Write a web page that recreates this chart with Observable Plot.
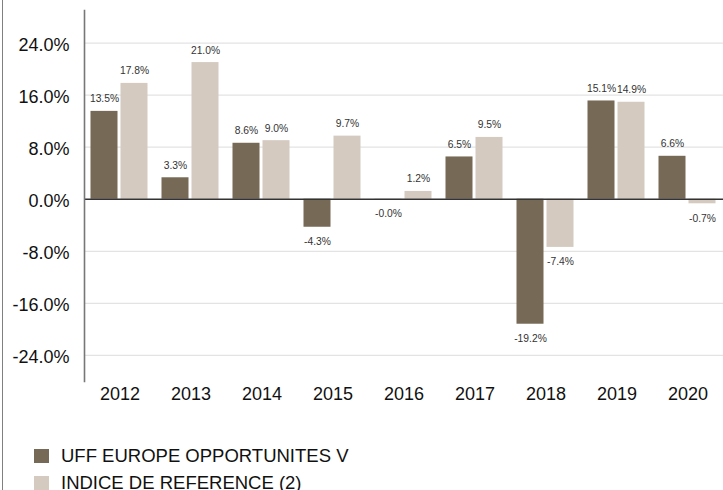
<!DOCTYPE html>
<html>
<head>
<meta charset="utf-8">
<script src="https://cdn.jsdelivr.net/npm/d3@7"></script>
<script src="https://cdn.jsdelivr.net/npm/@observablehq/plot@0.6"></script>
<style>
  html, body { margin: 0; padding: 0; background: #fff; }
  body { width: 723px; height: 490px; overflow: hidden; position: relative; font-family: "Liberation Sans", Arial, sans-serif; }
  #border { position: absolute; left: 2px; top: 0; width: 1px; height: 490px; background: #808080; }
  #chart svg { display: block; }
  #legend { padding-left: 34px; margin-top: 3px; }
  .row { display: flex; align-items: center; height: 26.7px; font-size: 18.5px; color: #111; }
  .sw { width: 15px; height: 14px; margin-right: 12px; flex: none; }
</style>
</head>
<body>
<div id="border"></div>
<div id="chart"></div>
<div id="legend"></div>
<script>
const years = ["2012", "2013", "2014", "2015", "2016", "2017", "2018", "2019", "2020"];
const seriesNames = ["UFF EUROPE OPPORTUNITES V", "INDICE DE REFERENCE (2)"];
const fundValues = [13.5, 3.3, 8.6, -4.3, -0.02, 6.5, -19.2, 15.1, 6.6];
const indexValues = [17.8, 21.0, 9.0, 9.7, 1.2, 9.5, -7.4, 14.9, -0.7];
const yTicks = [-24, -16, -8, 0, 8, 16, 24];
const colors = ["#766956", "#d4cac0"];

const data = years.flatMap((y, i) => [
  {year: y, series: seriesNames[0], value: fundValues[i]},
  {year: y, series: seriesNames[1], value: indexValues[i]}
]);
const fmt = v => v.toFixed(1) + "%";
const font = "Liberation Sans, Arial, sans-serif";

const plot = Plot.plot({
  width: 723,
  height: 440,
  marginLeft: 81.5,
  marginRight: -2,
  marginTop: 10,
  marginBottom: 59,
  style: {fontFamily: font, background: "transparent"},
  fx: {domain: years, padding: 0, label: null, axis: null},
  x: {domain: seriesNames, paddingInner: 0.097, paddingOuter: 0.198, axis: null},
  y: {domain: [-28, 29], axis: null},
  color: {domain: seriesNames, range: colors},
  marks: [
    Plot.ruleY(yTicks.filter(t => t !== 0), {stroke: "#e3e3e3", strokeWidth: 1.2}),
    Plot.barY(data, {fx: "year", x: "series", y: "value", fill: "series"}),
    Plot.ruleY([0], {stroke: "#333", strokeWidth: 1.3}),
    Plot.text(data.filter(d => d.value >= 0), {fx: "year", x: "series", y: "value", text: d => fmt(d.value), dy: -12.3, fontSize: 10.3, fill: "#333"}),
    Plot.text(data.filter(d => d.value < 0), {fx: "year", x: "series", y: "value", text: d => fmt(d.value), dy: 14.7, fontSize: 10.3, fill: "#333"}),
    Plot.axisY(yTicks, {anchor: "left", tickSize: 0, tickPadding: 15, tickFormat: d => d.toFixed(1) + "%", fontSize: 18, fill: "#111", dy: 2, label: null}),
    Plot.axisFx({anchor: "bottom", tickSize: 0, tickPadding: 6, fontSize: 18, fill: "#111", label: null}),
    Plot.frame({anchor: "left", facetAnchor: "left", stroke: "#777", strokeWidth: 1.6})
  ]
});
document.getElementById("chart").appendChild(plot);

const legend = d3.select("#legend");
seriesNames.forEach((name, i) => {
  const row = legend.append("div").attr("class", "row");
  row.append("div").attr("class", "sw").style("background", colors[i]);
  row.append("span").text(name);
});
</script>
</body>
</html>
